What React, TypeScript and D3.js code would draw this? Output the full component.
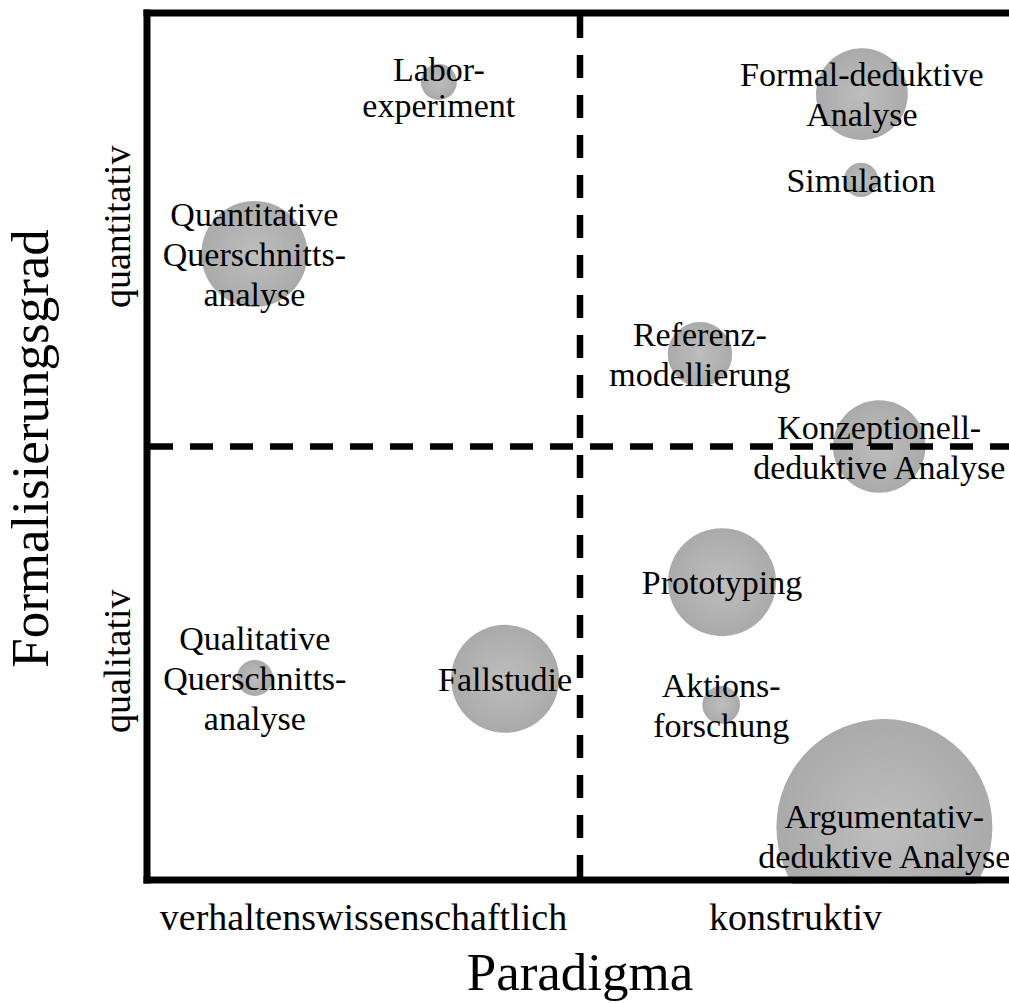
import React from "react";
import * as d3 from "d3";

const methods = [
  "Labor-\nexperiment",
  "Quantitative\nQuerschnitts-\nanalyse",
  "Formal-deduktive\nAnalyse",
  "Simulation",
  "Referenz-\nmodellierung",
  "Konzeptionell-\ndeduktive Analyse",
  "Prototyping",
  "Aktions-\nforschung",
  "Argumentativ-\ndeduktive Analyse",
  "Qualitative\nQuerschnitts-\nanalyse",
  "Fallstudie",
];
// Paradigma: -1 = verhaltenswissenschaftlich, +1 = konstruktiv
const paradigmValues = [-0.326, -0.752, 0.651, 0.649, 0.277, 0.691, 0.328, 0.326, 0.703, -0.751, -0.173];
// Formalisierungsgrad: -1 = qualitativ, +1 = quantitativ
const formalValues = [0.841, 0.444, 0.813, 0.615, 0.213, 0.0, -0.313, -0.596, -0.878, -0.534, -0.536];
// relative bubble weight (area)
const weights = [1, 8.7, 6.5, 0.9, 3.2, 6.6, 9, 1.1, 36, 1, 9];
const labelShift = [5, 0, 0, 0, 0, 0, 0, 0, 9, 0, 0];
const labelLineHeight = [36, 40, 40, 40, 40, 40, 40, 40, 40, 40, 40];

const xCategories = ["verhaltenswissenschaftlich", "konstruktiv"];
const yCategories = ["qualitativ", "quantitativ"];
const xTitle = "Paradigma";
const yTitle = "Formalisierungsgrad";

const W = 1009;
const H = 1003;
const FONT = "'Liberation Serif', 'Times New Roman', serif";

export default function App() {
  const x = d3.scaleLinear().domain([-1, 1]).range([147, 1013]);
  const y = d3.scaleLinear().domain([-1, 1]).range([880, 13]);
  const r = d3.scaleSqrt().domain([0, 36]).range([0, 108]);
  const fs = 34;

  const left = x(-1);
  const top = y(1);
  const bottom = y(-1);
  const cx0 = x(0);
  const cy0 = y(0);

  return (
    <svg
      width={W}
      height={H}
      viewBox={`0 0 ${W} ${H}`}
      style={{ position: "absolute", left: 0, top: 0, background: "#fff" }}
      fontFamily={FONT}
    >
      <defs>
        <radialGradient id="bub" cx="50%" cy="50%" r="50%">
          <stop offset="0%" stopColor="#bebebe" />
          <stop offset="100%" stopColor="#aaaaaa" />
        </radialGradient>
        <clipPath id="plot">
          <rect x={left} y={top} width={W - left} height={bottom - top + 4} />
        </clipPath>
      </defs>
      <rect x={0} y={0} width={W} height={H} fill="#fff" />

      <g clipPath="url(#plot)">
        {methods.map((m, i) => (
          <circle
            key={m}
            cx={x(paradigmValues[i])}
            cy={y(formalValues[i])}
            r={r(weights[i])}
            fill="url(#bub)"
          />
        ))}
      </g>

      {/* dashed quadrant lines */}
      <line x1={cx0} x2={cx0} y1={top + 2} y2={bottom} stroke="#000" strokeWidth={6.5} strokeDasharray="23 17" />
      <line x1={left + 3} x2={W} y1={cy0} y2={cy0} stroke="#000" strokeWidth={6.5} strokeDasharray="23 17" />

      {/* frame */}
      <line x1={left - 3.5} x2={W} y1={top} y2={top} stroke="#000" strokeWidth={7} />
      <line x1={left - 3.5} x2={W} y1={bottom} y2={bottom} stroke="#000" strokeWidth={7} />
      <line x1={left} x2={left} y1={top - 3.5} y2={bottom + 3.5} stroke="#000" strokeWidth={7} />

      {/* labels */}
      {methods.map((m, i) => {
        const lines = m.split("\n");
        const cx = x(paradigmValues[i]);
        const cy = y(formalValues[i]) + labelShift[i];
        const lh = labelLineHeight[i];
        return (
          <text key={m} textAnchor="middle" fontSize={fs} fill="#000">
            {lines.map((ln, j) => (
              <tspan key={j} x={cx} y={cy + (j - (lines.length - 1) / 2) * lh + 12}>
                {ln}
              </tspan>
            ))}
          </text>
        );
      })}

      {/* axis category labels */}
      <text x={(left + cx0) / 2} y={930} textAnchor="middle" fontSize={38}>
        {xCategories[0]}
      </text>
      <text x={(cx0 + W) / 2 + 1} y={930} textAnchor="middle" fontSize={38}>
        {xCategories[1]}
      </text>
      <text x={cx0} y={990} textAnchor="middle" fontSize={53}>
        {xTitle}
      </text>

      <text transform={`translate(130,${(cy0 + bottom) / 2 - 2}) rotate(-90)`} textAnchor="middle" fontSize={38}>
        {yCategories[0]}
      </text>
      <text transform={`translate(130,${(top + cy0) / 2 - 3}) rotate(-90)`} textAnchor="middle" fontSize={38}>
        {yCategories[1]}
      </text>
      <text transform={`translate(48,${cy0 + 2}) rotate(-90)`} textAnchor="middle" fontSize={53}>
        {yTitle}
      </text>
    </svg>
  );
}
